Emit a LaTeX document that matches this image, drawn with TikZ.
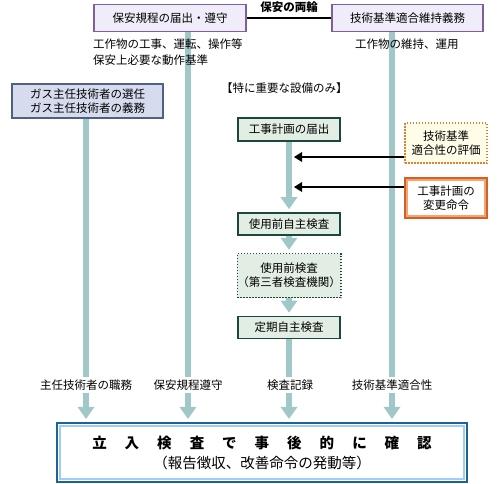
\documentclass[tikz,border=0pt]{standalone}
\usepackage{fontspec}
\setmainfont{Noto Sans CJK JP}
\usepackage{xcolor}
\usepackage{tikz}
\usetikzlibrary{arrows.meta, positioning, backgrounds}
\definecolor{barteal}{RGB}{160,200,200}
\definecolor{lavfill}{RGB}{240,236,250}
\definecolor{lavdraw}{RGB}{128,96,156}
\definecolor{gasfill}{RGB}{214,220,238}
\definecolor{gasdraw}{RGB}{80,96,128}
\definecolor{grnfill}{RGB}{226,238,228}
\definecolor{grndraw}{RGB}{28,72,58}
\definecolor{crmfill}{RGB}{255,252,232}
\definecolor{orgdraw}{RGB}{224,128,48}
\definecolor{orgdark}{RGB}{210,96,42}
\definecolor{orglight}{RGB}{244,164,112}
\definecolor{bluedark}{RGB}{28,100,148}
\definecolor{bluelight}{RGB}{160,204,248}
\newcommand{\chargap}{\hspace{18pt}}
\tikzset{
  every node/.style={font=\fontsize{11.5pt}{14pt}\selectfont},
  topbox/.style={rectangle, draw=lavdraw, fill=lavfill, line width=1.6pt,
    minimum width=152pt, minimum height=27pt, inner sep=0pt},
  gasbox/.style={rectangle, draw=gasdraw, fill=gasfill, line width=1.6pt,
    minimum width=151pt, minimum height=34pt, inner sep=0pt, align=center},
  flowbox/.style={rectangle, draw=grndraw, fill=grnfill, line width=1.8pt,
    minimum width=102pt, minimum height=22pt, inner sep=0pt, align=center},
  dotflow/.style={flowbox, line width=1.5pt, dash pattern=on 1.5pt off 1.5pt},
  evalbox/.style={rectangle, draw=orgdraw, fill=crmfill, line width=1.5pt,
    dash pattern=on 1.5pt off 1.5pt, minimum width=82pt, minimum height=40pt,
    inner sep=0pt, align=center},
  orderbox/.style={rectangle, draw=orgdark, fill=white, line width=2.2pt,
    minimum width=82pt, minimum height=40pt, inner sep=0pt, align=center},
  finbox/.style={rectangle, draw=bluedark, fill=white, line width=2.2pt,
    minimum width=410pt, minimum height=59pt, inner sep=0pt, align=center,
    font=\fontsize{14.5pt}{20pt}\selectfont},
  bar/.style={draw=barteal, line width=6pt, shorten >=3pt,
    -{Triangle[width=17pt, length=12pt, line width=0pt]}},
  blkarrow/.style={-{Triangle[width=10pt, length=8pt, line width=0pt]},
    line width=2pt, shorten >=5pt},
  pairline/.style={line width=1.6pt},
  lbl/.style={fill=white, inner xsep=1.5pt, inner ysep=3pt},
  note/.style={inner sep=0pt, align=left}
}

\begin{document}
\begin{tikzpicture}[x=1pt, y=-1pt]
  \useasboundingbox (0,0) rectangle (500,483);
  % Top boxes
  \node[topbox] (hoan) at (170,18) {保安規程の届出・遵守};
  \node[topbox, minimum width=151pt] (kijun) at (407.5,18) {技術基準適合維持義務};
  \draw[pairline] (hoan.east) -- (hoan.east -| kijun.west);
  \node[font=\fontsize{11.5pt}{14pt}\selectfont\bfseries] (ryorin) at (289,7) {保安の両輪};
  \node[note, font=\fontsize{11.5pt}{16.5pt}\selectfont, anchor=west] (kouji) at (93,52)
    {工作物の工事、運転、操作等\\保安上必要な動作基準};
  \node[note, anchor=west] (iji) at (355,44) {工作物の維持、運用};
  % Gas engineer box
  \node[gasbox] (gas) at (87.5,101) {ガス主任技術者の選任\\ガス主任技術者の義務};
  % Centre column
  \node[note, anchor=west] (juyo) at (221,88) {【特に重要な設備のみ】};
  \node[flowbox, minimum height=23pt] (koji) at (289,129.5) {工事計画の届出};
  \node[flowbox] (jishu) at (289,224) {使用前自主検査};
  \node[dotflow, minimum height=44pt] (shiyo) at (289,275.5) {使用前検査\\（第三者検査機関）};
  \node[flowbox] (teiki) at (289,327.5) {定期自主検査};
  % Right boxes
  \node[evalbox] (eval) at (446,143) {技術基準\\適合性の評価};
  \node[orderbox] (order) at (446,198) {工事計画の\\変更命令};
  \draw[orglight, line width=2pt] ([shift={(3.5pt,3.5pt)}]order.south west)
    rectangle ([shift={(-3.5pt,-3.5pt)}]order.north east);
  % Bottom box
  \node[finbox] (fin) at (262,452.5)
    {{\bfseries 立\chargap 入\chargap 検\chargap 査\chargap で\chargap 事\chargap 後\chargap 的\chargap に\chargap 確\chargap 認}\\（報告徴収、改善命令の発動等）};
  \draw[bluelight, line width=2pt] ([shift={(4pt,4pt)}]fin.south west)
    rectangle ([shift={(-4pt,-4pt)}]fin.north east);
  % Labels on the bars
  \node[lbl] (l1) at (86,385) {主任技術者の職務};
  \node[lbl] (l2) at (188,385) {保安規程遵守};
  \node[lbl] (l3) at (290,385) {検査記録};
  \node[lbl] (l4) at (392,385) {技術基準適合性};
  % Bars
  \begin{scope}[on background layer]
    \draw[bar] (gas.south -| l1) -- (l1 |- fin.north);
    \draw[bar] (hoan.south -| l2) -- (l2 |- fin.north);
    \draw[bar] (kijun.south -| l4) -- (l4 |- fin.north);
    \draw[bar] (koji) -- (jishu);
    \draw[bar] (jishu) -- (shiyo);
    \draw[bar] (shiyo) -- (teiki);
    \draw[bar] (teiki) -- (teiki |- fin.north);
  \end{scope}
  % Black arrows into the column
  \coordinate (e1) at ([yshift=-14pt]eval.west);
  \coordinate (e2) at ([yshift=11pt]order.west);
  \draw[blkarrow] (e1) -- (e1 -| koji.south);
  \draw[blkarrow] (e2) -- (e2 -| koji.south);
\end{tikzpicture}
\end{document}
